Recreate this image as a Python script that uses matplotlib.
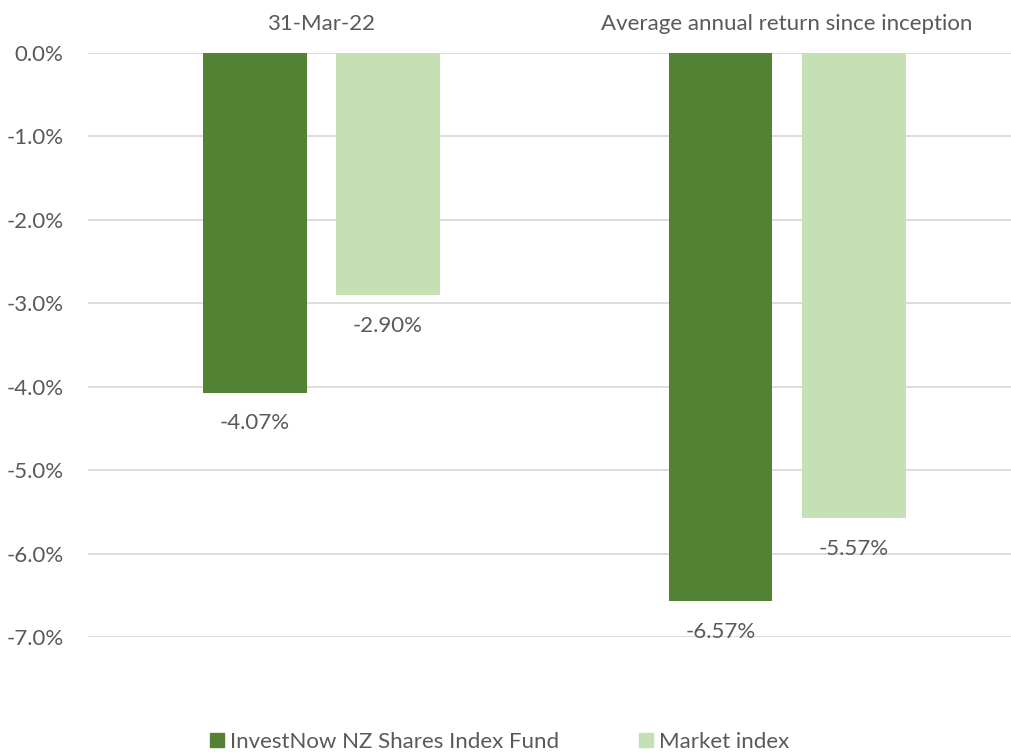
import numpy as np
import matplotlib.pyplot as plt
from matplotlib.patches import Patch

plt.rcParams['font.family'] = ['Lato', 'DejaVu Sans']

# Chart data
categories = ['31-Mar-22', 'Average annual return since inception']
series_names = ['InvestNow NZ Shares Index Fund', 'Market index']
fund_values = [-4.07, -6.57]
index_values = [-2.90, -5.57]
yticks = [0.0, -1.0, -2.0, -3.0, -4.0, -5.0, -6.0, -7.0]

dark_green = '#548235'
light_green = '#C5E0B4'
text_col = '#595959'
fs = 16

fig = plt.figure(figsize=(10.12, 7.55), dpi=100)
ax = fig.add_axes([88.5 / 1012, (755 - 637) / 755, 1 - 88.5 / 1012, (637 - 53) / 755])

x = np.arange(len(categories))
width = 0.223
off = 0.143

b1 = ax.bar(x - off, fund_values, width, color=dark_green, zorder=3)
b2 = ax.bar(x + off, index_values, width, color=light_green, zorder=3)

# value labels under each bar
for bars, vals in [(b1, fund_values), (b2, index_values)]:
    for rect, v in zip(bars, vals):
        ax.annotate(f'{v:.2f}%', (rect.get_x() + rect.get_width() / 2, v),
                    xytext=(0, -15), textcoords='offset points',
                    ha='center', va='top', fontsize=fs, color=text_col)

# category labels along the top
for xi, cat in zip(x, categories):
    ax.text(xi, 1.05, cat, transform=ax.get_xaxis_transform(),
            ha='center', va='center', fontsize=fs, color=text_col)

ax.set_xlim(-0.5, 1.5 - 8 / 466)
ax.set_ylim(-7.0, 0.0)
ax.set_yticks(yticks)
ax.set_yticklabels([f'{t:.1f}%' for t in yticks], fontsize=fs, color=text_col)
ax.set_xticks([])
ax.tick_params(axis='y', length=0, pad=18)
ax.yaxis.grid(True, color='#D9D9D9', linewidth=1.3, zorder=0)
for s in ax.spines.values():
    s.set_visible(False)
ax.set_axisbelow(True)

handles = [Patch(color=dark_green), Patch(color=light_green)]
fig.legend(handles, series_names, loc='center', bbox_to_anchor=(500 / 1012, 1 - 742 / 755),
           ncol=2, frameon=False, fontsize=fs, handlelength=0.6, handleheight=0.6,
           handletextpad=0.3, columnspacing=3.6, labelcolor=text_col)

fig.savefig('out.png', dpi=100)
